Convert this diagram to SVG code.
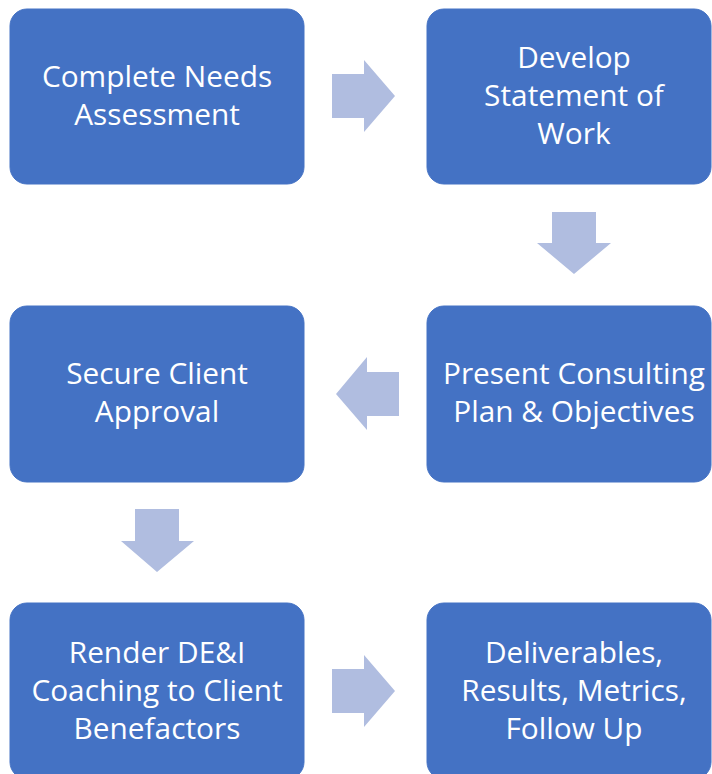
<svg xmlns="http://www.w3.org/2000/svg" width="712" height="774" viewBox="0 0 712 774">
<style>
.box{fill:#4472C4;stroke:#4472C4;stroke-width:1}
.arr{fill:#B0BDE0}
.t{font-family:"Open Sans","Liberation Sans",sans-serif;font-size:29.8px;fill:#FFFFFF;text-anchor:middle}
</style>
<rect width="712" height="774" fill="#FFFFFF"/>
<g id="connectors">
<polygon class="arr" points="332,74 364,74 364,60 395,96 364,132 364,118 332,118"/>
<polygon class="arr" points="552,212 596,212 596,243 611,243 574,274 537,243 552,243"/>
<polygon class="arr" points="399,372 367,372 367,357 336,394 367,430 367,416 399,416"/>
<polygon class="arr" points="135,509 179,509 179,541 194,541 157,572 121,541 135,541"/>
<polygon class="arr" points="332,669 364,669 364,655 395,691 364,727 364,713 332,713"/>
</g>
<g id="n1"><rect class="box" x="10" y="9" width="294" height="175" rx="17"/>
<text class="t" x="157" y="87">Complete Needs</text><text class="t" x="157" y="125">Assessment</text></g>
<g id="n2"><rect class="box" x="427" y="9" width="284" height="175" rx="17"/>
<text class="t" x="574" y="68">Develop</text><text class="t" x="574" y="106">Statement of</text><text class="t" x="574" y="144">Work</text></g>
<g id="n3"><rect class="box" x="427" y="306" width="284" height="176" rx="17"/>
<text class="t" x="574" y="384">Present Consulting</text><text class="t" x="574" y="422">Plan &amp; Objectives</text></g>
<g id="n4"><rect class="box" x="10" y="306" width="294" height="176" rx="17"/>
<text class="t" x="157" y="384">Secure Client</text><text class="t" x="157" y="422">Approval</text></g>
<g id="n5"><rect class="box" x="10" y="603" width="294" height="176" rx="17"/>
<text class="t" x="157" y="663">Render DE&amp;I</text><text class="t" x="157" y="701">Coaching to Client</text><text class="t" x="157" y="739">Benefactors</text></g>
<g id="n6"><rect class="box" x="427" y="603" width="284" height="176" rx="17"/>
<text class="t" x="574" y="663">Deliverables,</text><text class="t" x="574" y="701">Results, Metrics,</text><text class="t" x="574" y="739">Follow Up</text></g>
</svg>
